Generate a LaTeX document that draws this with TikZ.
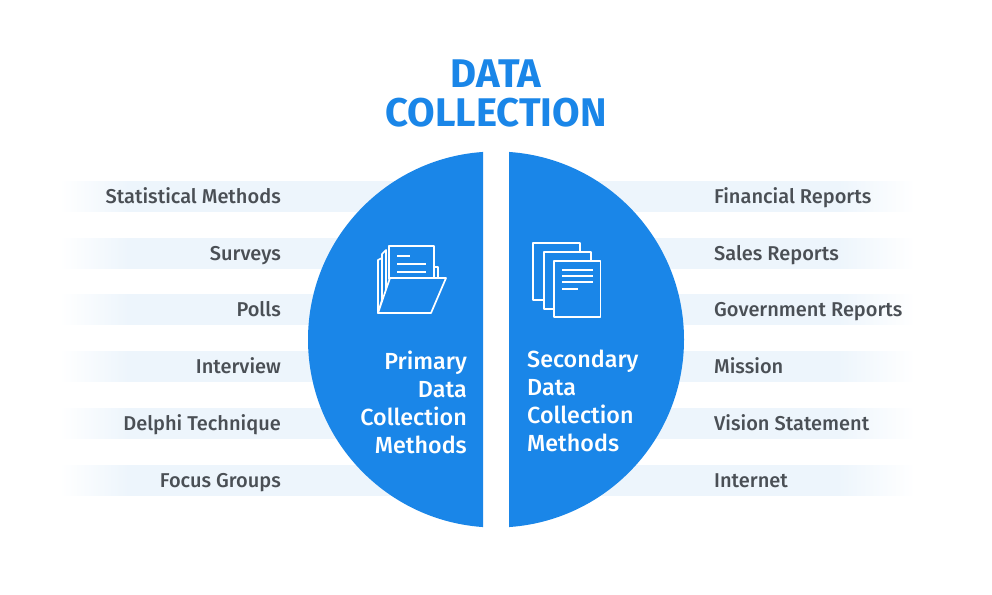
\documentclass[tikz,border=0pt]{standalone}
\usepackage{fontspec}
\setmainfont{Fira Sans}
\newfontfamily\fmed{Fira Sans Medium}
\definecolor{blu}{HTML}{1A86E8}
\definecolor{band}{HTML}{EDF5FC}
\definecolor{txt}{HTML}{4A4F55}
\pgfdeclarehorizontalshading{bandl}{100bp}{color(0bp)=(white);color(25bp)=(white);color(35bp)=(band);color(100bp)=(band)}
\pgfdeclarehorizontalshading{bandr}{100bp}{color(0bp)=(band);color(63bp)=(band);color(75bp)=(white);color(100bp)=(white)}
\tikzset{
 lab/.style={font=\fontsize{20}{20}\selectfont\fmed, text=txt, inner sep=0pt},
 ttl/.style={font=\fontsize{40}{40}\selectfont\bfseries, text=blu, inner sep=0pt},
 inn/.style={font=\fontsize{23.3}{28}\selectfont\fmed, text=white, inner sep=0pt},
 ico/.style={draw=white, line width=1.7pt, line join=round, fill=blu},
 icl/.style={draw=white, line width=1.7pt}
}
\begin{document}
\begin{tikzpicture}[x=1pt,y=-1pt,line cap=butt]
\useasboundingbox (0,0) rectangle (992,594);
\fill[white] (0,0) rectangle (992,594);
% bands
\foreach \y in {196,253,309,366,423,480}{
 \shade[shading=bandl] (60,\y-15) rectangle (400,\y+15);
 \shade[shading=bandr] (590,\y-15) rectangle (915,\y+15);
}
% half discs
\begin{scope}
 \clip (290,140) rectangle (483,540);
 \fill[blu] (496,339.5) circle[radius=188];
\end{scope}
\begin{scope}
 \clip (509,140) rectangle (700,540);
 \fill[blu] (496,339.5) circle[radius=188];
\end{scope}
\node[ttl,anchor=base] (t1) at (496,87) {DATA};
\node[ttl,anchor=base] (t2) at (496,126) {COLLECTION};
\foreach \n/\y/\s in {a/203/Statistical Methods,b/260/Surveys,c/316/Polls,d/373/Interview,e/430/Delphi Technique,f/487/Focus Groups}
 \node[lab,anchor=base east] (l\n) at (281,\y) {\s};
\foreach \n/\y/\s in {a/203/Financial Reports,b/260/Sales Reports,c/316/Government Reports,d/373/Mission,e/430/Vision Statement,f/487/Internet}
 \node[lab,anchor=base west] (r\n) at (714,\y) {\s};
\foreach \n/\y/\s in {p1/369/Primary,p2/397/Data,p3/425/Collection,p4/453/Methods}
 \node[inn,anchor=base east] (\n) at (467,\y) {\s};
\foreach \n/\y/\s in {s1/367/Secondary,s2/395/Data,s3/423/Collection,s4/451/Methods}
 \node[inn,anchor=base west] (\n) at (527,\y) {\s};
% folder icon
\draw[ico] (378,260) -- (382,258) -- (382,300) -- (378,313) -- cycle;
\draw[ico] (382,254) -- (386,250) -- (386,295) -- (382,305) -- cycle;
\draw[ico] (434,267) -- (438,267) -- (438,280) -- (434,280) -- cycle;
\draw[ico] (389,246) rectangle (434,279);
\draw[icl] (397,256) -- (410,256) (397,264) -- (426,264) (397,272) -- (426,272);
\draw[ico] (378,313) -- (431,313) -- (446,278) -- (390,278) -- cycle;
% document icon
\draw[ico] (533,243) rectangle (580,300);
\draw[ico] (544,252) rectangle (591,309);
\draw[ico] (554,261) rectangle (600.5,317);
\draw[icl] (562,270) -- (593,270) (562,276) -- (593,276) (562,282) -- (593,282) (562,289) -- (578,289);
\end{tikzpicture}
\end{document}
